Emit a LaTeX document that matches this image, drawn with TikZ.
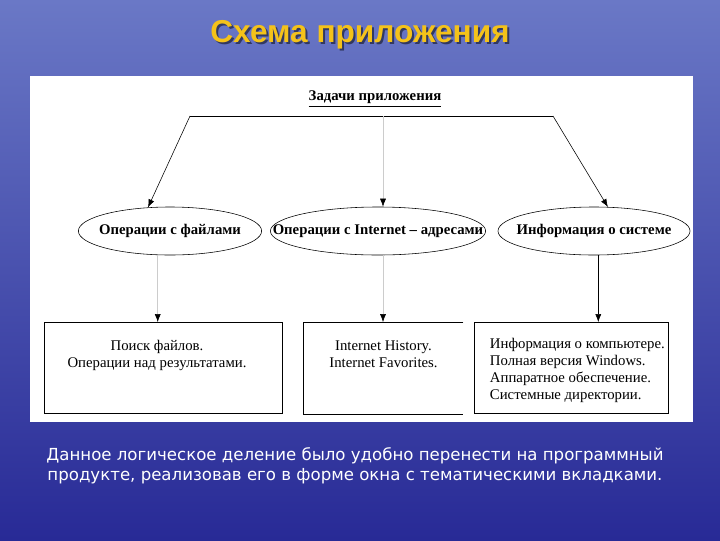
\documentclass[tikz,border=0pt]{standalone}
\usepackage{fontspec}
\setmainfont{Liberation Serif}
\newfontfamily\headfont{Liberation Sans}
\newfontfamily\notefont{DejaVu Sans}
\usetikzlibrary{shapes.geometric,positioning,arrows.meta}
\tikzset{>=Latex}
\definecolor{skytop}{HTML}{6A78C6}
\definecolor{skymid}{HTML}{3A42AA}
\definecolor{skybot}{HTML}{282A96}
\definecolor{titlegold}{HTML}{F4C21A}
\tikzset{
  task/.style={ellipse, draw, thin, inner sep=0pt, minimum height=1.2cm,
    font=\fontsize{10.5}{12.6}\selectfont\bfseries},
  listbox/.style={rectangle, draw, thin, minimum width=5.95cm, minimum height=2.28cm},
  listtext/.style={inner sep=0pt, font=\fontsize{10.5}{12.1}\selectfont},
  link/.style={-{Latex[length=2mm,width=1.5mm]}, thin},
  faint/.style={-{Latex[black,length=2mm,width=1.5mm]}, thin, draw=gray!40},
  headline/.style={font=\headfont\bfseries\fontsize{22.5}{26}\selectfont}
}
\begin{document}
\begin{tikzpicture}[x=0.025cm, y=-0.025cm]
  % slide background
  \shade[top color=skytop, middle color=skymid, bottom color=skybot] (0,0) rectangle (720,540);
  \useasboundingbox (0,0) rectangle (720,540);
  \node[headline, text=black, opacity=.5] (titleshade) at (362,37) {Схема приложения};
  \node[headline, text=titlegold] (title) at (360,35) {Схема приложения};
  \fill[white] (30,76) rectangle (693,422);

  % top of the scheme
  \node[listtext, font=\fontsize{10.5}{12.6}\selectfont\bfseries] (aim) at (375,99) {\underline{Задачи приложения}};
  \coordinate (aimL) at (190,116);
  \coordinate (aimM) at (383,116);
  \coordinate (aimR) at (553,116);
  \draw[thin] (aimL) -- (aimR);

  % three groups
  \node[task, minimum width=4.58cm] (files) at (170,231) {\makebox[0pt]{Операции с файлами}};
  \node[task, minimum width=5.38cm] (inet) at (378,231) {\makebox[0pt]{Операции с Internet -- адресами}};
  \node[task, minimum width=4.8cm] (sys) at (594,231) {\makebox[0pt]{Информация о системе}};

  % what each group does
  \node[listbox] (filesbox) at (163,368) {};
  \node[listbox, draw=none, minimum width=3.98cm] (inetbox) at (383.5,368) {};
  \draw[thin] (inetbox.north east) -- (inetbox.north west) -- (inetbox.south west) -- (inetbox.south east);
  \node[listbox, minimum width=4.85cm] (sysbox) at (571,368) {};
  \node[listtext, align=center, below=0.45cm of filesbox.north, xshift=-0.15cm] (filestext) {Поиск файлов.\\Операции над результатами.};
  \node[listtext, align=center, below=0.45cm of inetbox.north] (inettext) {Internet History.\\Internet Favorites.};
  \node[listtext, align=left, below right=0.4cm and 0.4cm of sysbox.north west] (systext)
    {Информация о компьютере.\\Полная версия Windows.\\Аппаратное обеспечение.\\Системные директории.};

  % connectors
  \draw[link] (aimL) -- (files.133);
  \draw[faint] (aimM) -- (aimM |- inet.north);
  \draw[link] (aimR) -- (sys.60);
  \draw[faint] (files.243) -- (files.243 |- filesbox.north);
  \draw[faint] (aimM |- inet.south) -- (aimM |- inetbox.north);
  \draw[link] (sys.280) -- (sys.280 |- sysbox.north);

  \node[font=\notefont\fontsize{11.8}{14.4}\selectfont, text=white, align=center] (note) at (355,466)
    {Данное логическое деление было удобно перенести на программный\\продукте, реализовав его в форме окна с тематическими вкладками.};
\end{tikzpicture}
\end{document}
